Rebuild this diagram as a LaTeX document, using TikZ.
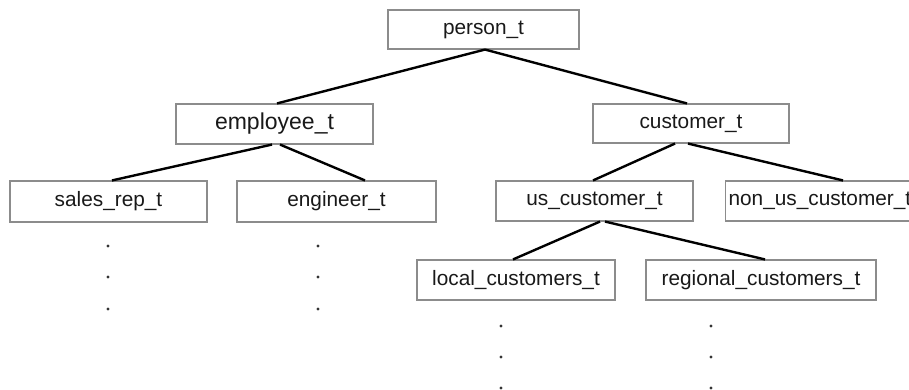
\documentclass[tikz,border=0pt]{standalone}
\usepackage{fontspec}
\setmainfont{Liberation Sans}
\begin{document}
\begin{tikzpicture}[x=1pt,y=-1pt,
  box/.style={draw=black!45, line width=1.1pt, fill=white, inner sep=0pt, font=\fontsize{20.8pt}{24pt}\selectfont, text=black!90},
  link/.style={draw=black, line width=2.4pt},
  dot/.style={circle, fill=black!80, inner sep=0pt, minimum size=3.4pt}]
\useasboundingbox (0,0) rectangle (909,390);
\clip (0,0) rectangle (909,390);
\node[box, minimum width=191pt, minimum height=39pt] (person) at (483.5,29.5) {person\_t};
\node[box, minimum width=197pt, minimum height=40pt, font=\fontsize{23pt}{26pt}\selectfont] (employee) at (274.5,124) {employee\_t};
\node[box, minimum width=196pt, minimum height=39pt] (customer) at (691,123.5) {customer\_t};
\node[box, minimum width=197pt, minimum height=41pt] (salesrep) at (108.5,201.5) {sales\_rep\_t};
\node[box, minimum width=199pt, minimum height=41pt] (engineer) at (336.5,201.5) {engineer\_t};
\node[box, minimum width=197pt, minimum height=40pt] (uscust) at (594.5,201) {us\_customer\_t};
\node[box, minimum width=210pt, minimum height=40pt, anchor=west, text width=204pt, align=left] (nonus) at (725,201) {non\_us\_customer\_t};
\node[box, minimum width=198pt, minimum height=40pt] (local) at (516,280) {local\_customers\_t};
\node[box, minimum width=230pt, minimum height=40pt] (regional) at (761,280) {regional\_customers\_t};
\draw[link] ([xshift=1.5pt]person.south) -- ([xshift=2.5pt]employee.north);
\draw[link] ([xshift=1.5pt]person.south) -- ([xshift=-4pt]customer.north);
\draw[link] ([xshift=-2.5pt]employee.south) -- ([xshift=3.5pt]salesrep.north);
\draw[link] ([xshift=5.5pt]employee.south) -- ([xshift=28.5pt]engineer.north);
\draw[link] ([xshift=-16pt]customer.south) -- ([xshift=-1.5pt]uscust.north);
\draw[link] ([xshift=-3pt]customer.south) -- ([xshift=118pt]nonus.north west);
\draw[link] ([xshift=5.5pt]uscust.south) -- ([xshift=-3pt]local.north);
\draw[link] ([xshift=10.5pt]uscust.south) -- ([xshift=4pt]regional.north);
\foreach \y [count=\i] in {246,277,309} {
  \node[dot] (sd\i) at (108,\y) {};
  \node[dot] (ed\i) at (318,\y) {};
}
\foreach \y [count=\i] in {326,357,388} {
  \node[dot] (ld\i) at (501,\y) {};
  \node[dot] (rd\i) at (711,\y) {};
}
\end{tikzpicture}
\end{document}
